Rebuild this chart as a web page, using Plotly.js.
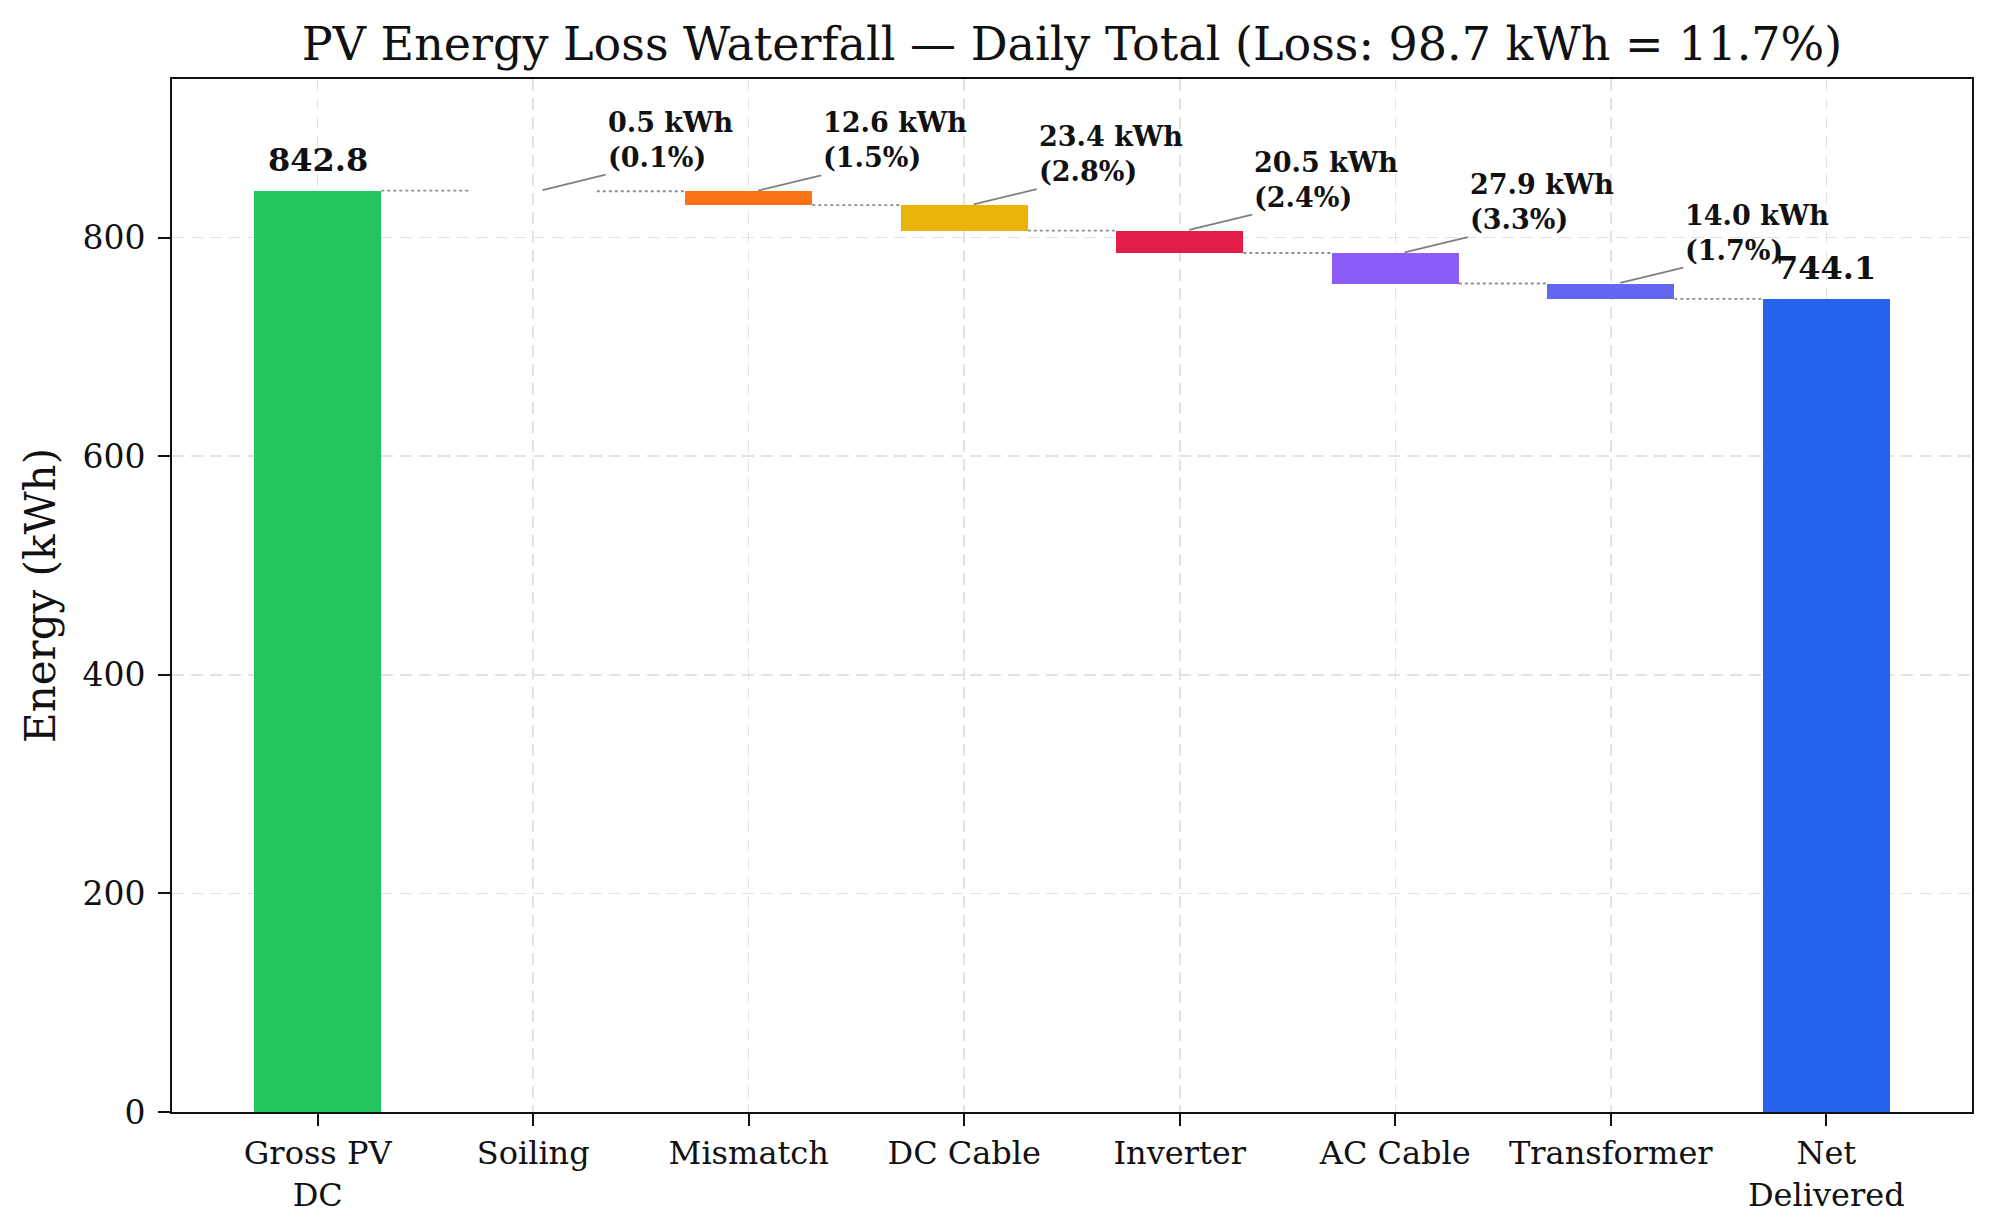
<!DOCTYPE html>
<html>
<head>
<meta charset="utf-8">
<script src="https://cdn.plot.ly/plotly-3.0.1.min.js"></script>
<style>
  html, body { margin: 0; padding: 0; background: #fff; }
  #chart { width: 1989px; height: 1221px; }
</style>
</head>
<body>
<div id="chart"></div>
<script>
// Values
const categories = ['Gross PV<br>DC', 'Soiling', 'Mismatch', 'DC Cable', 'Inverter', 'AC Cable', 'Transformer', 'Net<br>Delivered'];
const grossDC = 842.8;
const losses = [0.5, 12.6, 23.4, 20.5, 27.9, 14.0];
const lossPct = [0.1, 1.5, 2.8, 2.4, 3.3, 1.7];
const netDelivered = 744.1;
const barColors = ['#22c55e', '#a16207', '#f97316', '#eab308', '#e11d48', '#8b5cf6', '#6366f1', '#2563eb'];

const FONT = 'DejaVu Serif, Liberation Serif, serif';
const barWidth = 0.59;

// Build waterfall bars: base + height for each category
const xs = categories.map((_, i) => i);
const heights = [grossDC];
const bases = [0];
const levels = [grossDC]; // running total after each bar
let running = grossDC;
losses.forEach(l => {
    running -= l;
    heights.push(l);
    bases.push(running);
    levels.push(running);
});
heights.push(netDelivered);
bases.push(0);

const traces = [];

traces.push({
    type: 'bar',
    x: xs,
    y: heights,
    base: bases,
    width: barWidth,
    marker: { color: barColors, line: { width: 0 } },
    hoverinfo: 'none',
    showlegend: false
});

// Dotted connectors between neighbouring bars
const cx = [];
const cy = [];
for (let i = 0; i < levels.length; i++) {
    cx.push(i + barWidth / 2, i + 1 - barWidth / 2, null);
    cy.push(levels[i], levels[i], null);
}
traces.push({
    type: 'scatter',
    mode: 'lines',
    x: cx,
    y: cy,
    line: { color: '#8f8f8f', width: 1.8, dash: 'dot' },
    hoverinfo: 'none',
    showlegend: false
});

const annotations = [];

// Loss labels with leader lines
losses.forEach((l, k) => {
    const i = k + 1;
    annotations.push({
        x: i + 0.03,
        y: bases[i] + heights[i],
        xref: 'x',
        yref: 'y',
        text: '<b>' + l.toFixed(1) + ' kWh<br>(' + lossPct[k].toFixed(1) + '%)</b>',
        align: 'left',
        showarrow: true,
        arrowhead: 0,
        arrowwidth: 1.8,
        arrowcolor: '#7f7f7f',
        standoff: 3,
        ax: 66,
        ay: -16,
        xanchor: 'left',
        yanchor: 'bottom',
        borderpad: 1,
        font: { family: FONT, size: 27, color: '#111' }
    });
});

// Totals on the first and last bars
[[0, grossDC], [7, netDelivered]].forEach(([i, v]) => {
    annotations.push({
        x: i,
        y: v,
        xref: 'x',
        yref: 'y',
        text: '<b>' + v.toFixed(1) + '</b>',
        showarrow: false,
        xanchor: 'center',
        yanchor: 'bottom',
        yshift: 10,
        font: { family: FONT, size: 32, color: '#111' }
    });
});

const layout = {
    width: 1989,
    height: 1221,
    margin: { l: 172, r: 17, t: 79, b: 109 },
    paper_bgcolor: '#fff',
    plot_bgcolor: '#fff',
    font: { family: FONT, color: '#111' },
    title: {
        text: 'PV Energy Loss Waterfall \u2014 Daily Total (Loss: 98.7 kWh = 11.7%)',
        font: { family: FONT, size: 46, color: '#111' },
        x: 0.5,
        xref: 'paper',
        xanchor: 'center',
        y: 0.964,
        yanchor: 'middle'
    },
    xaxis: {
        range: [-0.676, 7.676],
        tickmode: 'array',
        tickvals: xs,
        ticktext: categories,
        tickfont: { family: FONT, size: 32, color: '#111' },
        ticks: 'outside',
        ticklen: 12,
        tickwidth: 2,
        tickcolor: '#111',
        showline: true,
        linecolor: '#111',
        linewidth: 2,
        mirror: true,
        showgrid: true,
        gridcolor: '#e3e3e3',
        gridwidth: 1.5,
        griddash: '12px,7px',
        zeroline: false,
        fixedrange: true
    },
    yaxis: {
        range: [0, 945],
        tickmode: 'array',
        tickvals: [0, 200, 400, 600, 800],
        tickfont: { family: FONT, size: 33, color: '#111' },
        ticks: 'outside',
        ticklen: 12,
        tickwidth: 2,
        tickcolor: '#111',
        ticklabelstandoff: 6,
        showline: true,
        linecolor: '#111',
        linewidth: 2,
        mirror: true,
        showgrid: true,
        gridcolor: '#e3e3e3',
        gridwidth: 1.5,
        griddash: '12px,7px',
        zeroline: false,
        fixedrange: true,
        title: {
            text: 'Energy (kWh)',
            font: { family: FONT, size: 42, color: '#111' },
            standoff: 14
        }
    },
    annotations: annotations,
    bargap: 0
};

Plotly.newPlot('chart', traces, layout, { displayModeBar: false, staticPlot: true });
</script>
</body>
</html>
